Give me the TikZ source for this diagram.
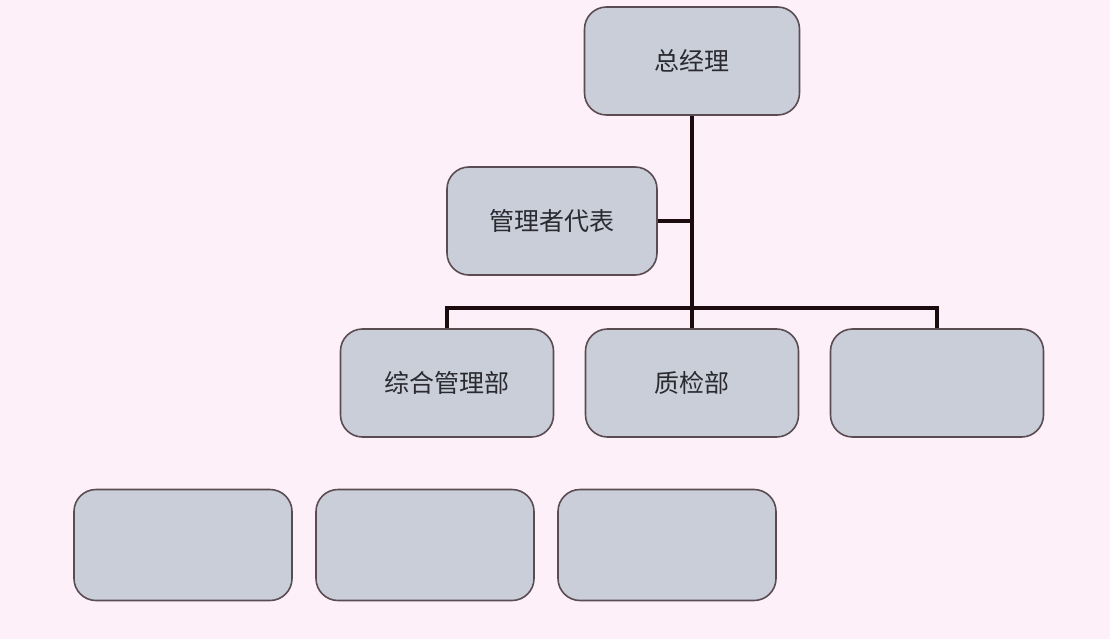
\documentclass[tikz,border=0pt]{standalone}
\usepackage{fontspec}
\setmainfont{Noto Sans CJK SC}
\begin{document}
\begin{tikzpicture}[x=1pt,y=-1pt,
  orgbox/.style={draw=boxline,line width=1.6pt,fill=boxfill,rounded corners=22pt,
    minimum width=213pt,minimum height=108pt,inner sep=0pt,font=\fontsize{25}{30}\selectfont,text=txt},
  lowbox/.style={orgbox,minimum width=218pt,minimum height=111pt},
  link/.style={draw=linkc,line width=3.6pt}]
\definecolor{bg}{HTML}{FDF0F8}
\definecolor{boxfill}{HTML}{C9CED9}
\definecolor{boxline}{HTML}{5A4C52}
\definecolor{linkc}{HTML}{1C0C10}
\definecolor{txt}{HTML}{2A2A30}
\useasboundingbox (0,0) rectangle (1110,639);
\fill[bg] (0,0) rectangle (1110,639);
\node[orgbox,minimum width=215pt] (gm) at (692,61) {总经理};
\node[orgbox,minimum width=210pt] (rep) at (552,221) {管理者代表};
\node[orgbox] (d1) at (447,383) {综合管理部};
\node[orgbox] (d2) at (692,383) {质检部};
\node[orgbox] (d3) at (937,383) {};
\node[lowbox] (s1) at (183,545) {};
\node[lowbox] (s2) at (425,545) {};
\node[lowbox] (s3) at (667,545) {};
\coordinate (bar) at (692,308);
\coordinate (repj) at (692,221);
\draw[link] (gm.south) -- (d2.north);
\draw[link] (rep.east) -- (repj);
\draw[link] (d1.north) |- (bar) -| (d3.north);
\end{tikzpicture}
\end{document}
